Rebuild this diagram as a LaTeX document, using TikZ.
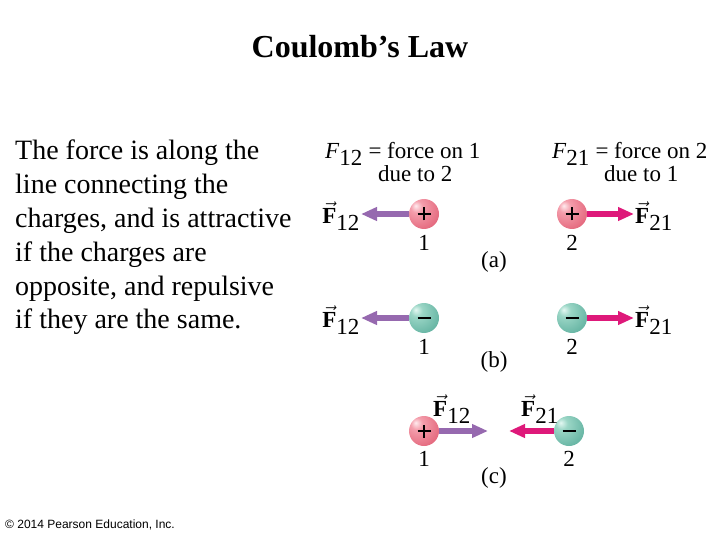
\documentclass[tikz,border=0pt]{standalone}
\usepackage{fontspec}
\setmainfont{Liberation Serif}
\newfontfamily\arialfont{Liberation Sans}
\usetikzlibrary{arrows.meta}
\definecolor{pinkhi}{RGB}{255,235,238}
\definecolor{pinkmid}{RGB}{244,158,172}
\definecolor{pinkedge}{RGB}{222,85,108}
\definecolor{tealhi}{RGB}{228,248,242}
\definecolor{tealmid}{RGB}{155,214,198}
\definecolor{tealedge}{RGB}{82,168,150}
\definecolor{purplearrow}{RGB}{150,105,175}
\definecolor{magentaarrow}{RGB}{222,25,122}
\pgfdeclareradialshading{plusball}{\pgfpoint{-14bp}{14bp}}{color(0bp)=(pinkhi); color(10bp)=(pinkmid); color(45bp)=(pinkedge); color(80bp)=(pinkedge)}
\pgfdeclareradialshading{minusball}{\pgfpoint{-14bp}{14bp}}{color(0bp)=(tealhi); color(10bp)=(tealmid); color(45bp)=(tealedge); color(80bp)=(tealedge)}
\newcommand{\vF}[1]{$\vec{\textbf{F}}_{\textrm{#1}}$}
\begin{document}
\begin{tikzpicture}[x=1pt,y=-1pt,
  charge/.style={circle, minimum size=30pt, inner sep=0pt},
  posq/.style={charge, shading=plusball,
    path picture={\draw[line width=2.6pt] ([xshift=-6.5pt]path picture bounding box.center) -- ([xshift=6.5pt]path picture bounding box.center);
                  \draw[line width=2.6pt] ([yshift=-6.5pt]path picture bounding box.center) -- ([yshift=6.5pt]path picture bounding box.center);}},
  negq/.style={charge, shading=minusball,
    path picture={\draw[line width=2.8pt] ([xshift=-6.5pt]path picture bounding box.center) -- ([xshift=6.5pt]path picture bounding box.center);}},
  lbl/.style={font=\fontsize{23}{23}\selectfont, inner sep=1pt},
  num/.style={font=\fontsize{23}{23}\selectfont, inner sep=0pt},
  farrow/.style={line width=5.5pt, -{Triangle[length=16pt,width=13pt]}},
  f12/.style={farrow, draw=purplearrow},
  f21/.style={farrow, draw=magentaarrow}]
\useasboundingbox (0,0) rectangle (720,540);
% title
\node[anchor=base, font=\fontsize{32}{32}\selectfont\bfseries, inner sep=0pt] (title) at (360,58) {Coulomb’s Law};
% body text
\node[anchor=north west, align=left, inner sep=0pt, font=\fontsize{28}{33.8}\selectfont] (body) at (15,140)
  {The force is along the\\line connecting the\\charges, and is attractive\\if the charges are\\opposite, and repulsive\\if they are the same.};
% headers
\node[lbl, anchor=base west] (h1) at (324,159) {$\textit{F}_{\textrm{12}}$ = force on 1};
\node[lbl, anchor=base west] (h1b) at (377,182) {due to 2};
\node[lbl, anchor=base west] (h2) at (551,159) {$\textit{F}_{\textrm{21}}$ = force on 2};
\node[lbl, anchor=base west] (h2b) at (603,182) {due to 1};
% (a)
\node[lbl, anchor=east] (fa1) at (361,216) {\vF{12}};
\node[lbl, anchor=west] (fa2) at (634,216) {\vF{21}};
\node[posq] (a1) at (424,214) {};
\node[posq] (a2) at (572,214) {};
\draw[f12] (a1.west) -- (fa1.east |- a1.west);
\draw[f21] (a2.east) -- (fa2.west |- a2.east);
\node[num] (na1) at (424,243) {1};
\node[num] (na2) at (572,243) {2};
\node[num] (la) at (494,262) {(a)};
% (b)
\node[lbl, anchor=east] (fb1) at (361,320) {\vF{12}};
\node[lbl, anchor=west] (fb2) at (634,320) {\vF{21}};
\node[negq] (b1) at (424,318) {};
\node[negq] (b2) at (572,318) {};
\draw[f12] (b1.west) -- (fb1.east |- b1.west);
\draw[f21] (b2.east) -- (fb2.west |- b2.east);
\node[num] (nb1) at (424,347) {1};
\node[num] (nb2) at (572,347) {2};
\node[num] (lb) at (494,362) {(b)};
% (c)
\coordinate (c1end) at (488,431);
\coordinate (c2end) at (509,431);
\node[posq] (c1) at (424,431) {};
\node[negq] (c2) at (569,431) {};
\draw[f12] (c1.east) -- (c1end);
\draw[f21] (c2.west) -- (c2end);
\node[lbl] (fc1) at (452,409) {\vF{12}};
\node[lbl] (fc2) at (540,409) {\vF{21}};
\node[num] (nc1) at (424,459) {1};
\node[num] (nc2) at (569,459) {2};
\node[num] (lc) at (494,478) {(c)};
% copyright
\node[anchor=west, inner sep=0pt, font=\arialfont\fontsize{12}{12}\selectfont] (copy) at (5,525) {© 2014 Pearson Education, Inc.};
\end{tikzpicture}
\end{document}
